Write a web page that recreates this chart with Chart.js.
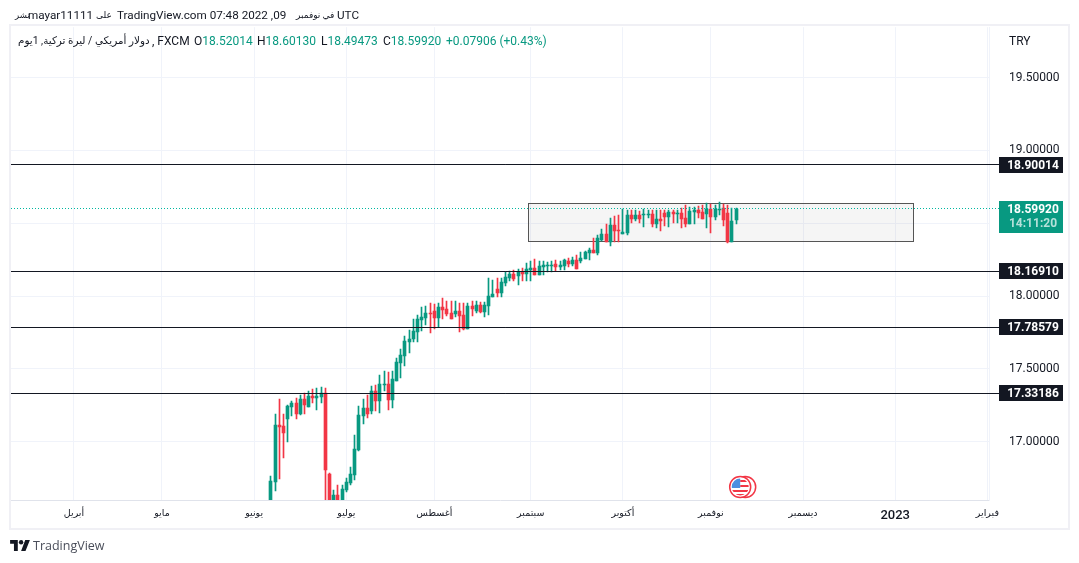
<!DOCTYPE html>
<html>
<head>
<meta charset="utf-8">
<title>USDTRY</title>
<script src="https://cdn.jsdelivr.net/npm/chart.js@4/dist/chart.umd.js"></script>
<style>
  html, body { margin: 0; padding: 0; background: #fff; width: 1079px; height: 563px; overflow: hidden; }
  body { font-family: Roboto, "DejaVu Sans", sans-serif; color: #131722; position: relative; }
  #frame { position: absolute; left: 9px; top: 24px; width: 1057px; height: 502px; border: 2px solid #f0f0f5; }
  canvas { position: absolute; left: 0; top: 0; }
  .txt { position: absolute; white-space: pre; font-size: 12px; line-height: 16px; }
  .g { color: #089981; }
  .ar { font-size: 9px; }
  #brand { position: absolute; left: 10px; top: 538px; font-family: "Open Sans", sans-serif; font-size: 12.5px; line-height: 16px; color: #4a4e5a; padding-left: 23px; }
  #brand svg { position: absolute; left: 0; top: 2px; }
</style>
</head>
<body>
<div id="frame"></div>
<canvas id="chart" width="1079" height="563"></canvas>
<div class="txt ar" style="left:15px;top:7px;font-size:8.5px">نشر</div>
<div class="txt" style="left:28px;top:7px;font-size:11.7px">mayar11111</div>
<div class="txt ar" style="left:96px;top:7px">على</div>
<div class="txt" style="left:117px;top:7px;font-size:11.7px">TradingView.com 07:48 2022 ,09</div>
<div class="txt ar" style="left:296px;top:7px">في نوفمبر</div>
<div class="txt" style="left:337px;top:7px;font-size:11.7px">UTC</div>
<div class="txt ar" style="left:18px;top:33px;direction:rtl;font-size:10.4px">دولار أمريكي / ليرة تركية, 1يوم</div>
<div class="txt" style="left:152px;top:33px">, FXCM</div>
<div class="txt" style="left:194px;top:33px">O<span class="g">18.52014</span></div>
<div class="txt" style="left:257px;top:33px">H<span class="g">18.60130</span></div>
<div class="txt" style="left:321px;top:33px">L<span class="g">18.49473</span></div>
<div class="txt" style="left:383px;top:33px">C<span class="g">18.59920</span></div>
<div class="txt g" style="left:446px;top:33px">+0.07906 (+0.43%)</div>
<div class="txt" style="left:1009px;top:33px">TRY</div>
<div id="brand"><svg width="20" height="11" viewBox="0 0 36 20"><path fill="#131722" d="M14 20H7V7H0V0h14v20zM28 20h-8l7.5-20H36l-8 20z"/><circle fill="#131722" cx="20" cy="4" r="4"/></svg>TradingView</div>

<script>
// candles, x is counted in trading days from the last bar (9 Nov 2022)
const lastBarIndex = 0;
const opens = [16.527,16.726,17.116,17.110,17.158,17.240,17.267,17.192,17.295,17.240,17.315,17.301,17.308,17.336,16.781,16.527,16.637,16.527,16.671,16.719,16.774,16.945,17.178,17.233,17.212,17.349,17.281,17.390,17.397,17.288,17.418,17.541,17.589,17.685,17.705,17.753,17.836,17.849,17.884,17.897,17.849,17.925,17.911,17.884,17.877,17.897,17.870,17.774,17.932,17.897,17.938,17.890,17.932,17.993,18.048,18.021,18.089,18.123,18.151,18.137,18.164,18.151,18.178,18.192,18.144,18.199,18.205,18.205,18.219,18.199,18.205,18.240,18.219,18.247,18.240,18.253,18.295,18.315,18.295,18.384,18.425,18.370,18.486,18.452,18.425,18.432,18.555,18.527,18.555,18.555,18.555,18.562,18.493,18.527,18.568,18.541,18.575,18.562,18.568,18.534,18.493,18.575,18.589,18.575,18.562,18.596,18.541,18.589,18.603,18.568,18.370,18.520];
const highs = [16.767,17.192,17.295,17.192,17.253,17.281,17.301,17.322,17.336,17.349,17.363,17.370,17.377,17.370,16.788,16.671,16.705,16.699,16.753,16.829,17.048,17.247,17.295,17.322,17.384,17.390,17.459,17.486,17.479,17.486,17.575,17.637,17.726,17.767,17.842,17.870,17.925,17.932,17.952,17.945,17.952,17.986,17.966,17.966,17.966,17.952,17.952,17.952,17.966,17.966,17.959,17.959,18.123,18.110,18.123,18.123,18.164,18.171,18.178,18.185,18.192,18.226,18.240,18.253,18.240,18.240,18.233,18.240,18.247,18.240,18.253,18.260,18.267,18.281,18.301,18.308,18.329,18.397,18.418,18.459,18.493,18.534,18.548,18.555,18.596,18.589,18.589,18.589,18.582,18.596,18.589,18.589,18.589,18.589,18.589,18.589,18.589,18.589,18.603,18.623,18.610,18.610,18.616,18.623,18.637,18.630,18.623,18.644,18.630,18.623,18.603,18.601];
const lows = [16.493,16.658,16.747,16.890,17.000,17.178,17.158,17.185,17.192,17.240,17.267,17.219,17.267,16.493,16.459,16.459,16.459,16.459,16.651,16.699,16.740,16.938,17.123,17.164,17.192,17.212,17.199,17.349,17.219,17.233,17.418,17.438,17.521,17.610,17.685,17.685,17.760,17.801,17.747,17.774,17.788,17.842,17.863,17.842,17.856,17.753,17.767,17.774,17.863,17.884,17.884,17.856,17.870,17.993,17.993,17.993,18.068,18.103,18.103,18.075,18.103,18.103,18.103,18.144,18.144,18.144,18.164,18.164,18.171,18.178,18.178,18.199,18.205,18.185,18.226,18.253,18.247,18.295,18.281,18.377,18.370,18.342,18.370,18.370,18.425,18.418,18.500,18.514,18.500,18.473,18.534,18.473,18.466,18.445,18.479,18.473,18.500,18.500,18.466,18.473,18.493,18.493,18.534,18.527,18.466,18.432,18.521,18.555,18.479,18.363,18.370,18.495];
const closes = [16.733,17.116,17.103,17.062,17.247,17.267,17.192,17.295,17.253,17.315,17.301,17.315,17.336,16.808,16.493,16.637,16.527,16.678,16.726,16.781,16.952,17.185,17.233,17.192,17.349,17.281,17.397,17.397,17.288,17.432,17.548,17.596,17.692,17.705,17.760,17.842,17.856,17.884,17.877,17.849,17.925,17.904,17.877,17.842,17.897,17.863,17.774,17.932,17.911,17.938,17.890,17.938,18.000,18.014,18.021,18.096,18.130,18.151,18.116,18.164,18.151,18.185,18.192,18.144,18.205,18.212,18.212,18.212,18.199,18.212,18.247,18.219,18.247,18.185,18.260,18.301,18.315,18.295,18.397,18.425,18.370,18.486,18.445,18.445,18.438,18.555,18.527,18.555,18.527,18.562,18.562,18.493,18.527,18.514,18.541,18.575,18.562,18.568,18.527,18.493,18.582,18.589,18.568,18.527,18.596,18.541,18.596,18.596,18.521,18.370,18.514,18.599];

// axes
const monthLabels = ['أبريل','مايو','يونيو','يوليو','أغسطس','سبتمبر','أكتوبر','نوفمبر','ديسمبر','2023','فبراير'];
const monthBars = [-158,-137,-115,-93,-72,-49,-27,-6,16,38,60];
const priceTicks = [17, 17.5, 18, 18.5, 19, 19.5];

// drawings on the chart
const levels = [18.90014, 18.16910, 17.78579, 17.33186];
const lastPrice = 18.59920;
const countdown = '14:11:20';
const boxBars = [-49.6, 42.2];
const boxPrices = [18.640, 18.375];
const eventBar = 1;

const UP = '#089981', DOWN = '#f23645', INK = '#131722', GRID = '#f0f3fa';
const xMin = -173.03, xMax = 60.38, lineEnd = 62.8;

const candleBar = i => i - opens.length + 1 + lastBarIndex;
const candleColors = opens.map((o, i) => closes[i] >= o ? UP : DOWN);

// everything sits on whole pixels, otherwise the 1px wicks and lines go blurry
const snapMarks = {
  id: 'snapMarks',
  afterDatasetsUpdate(chart) {
    chart.getSortedVisibleDatasetMetas().forEach(meta => {
      meta.data.forEach(el => {
        if (meta.type === 'bar') {
          el.x = Math.floor(el.x) + 0.5;
          el.y = Math.round(el.y);
          el.base = Math.round(el.base);
        } else {
          el.y = Math.floor(el.y) + 0.5;
        }
      });
    });
  }
};

const boxPlugin = {
  id: 'box',
  beforeDatasetsDraw(chart) {
    const { ctx, scales: { x, y } } = chart;
    const x0 = Math.round(x.getPixelForValue(boxBars[0])) + 0.5;
    const x1 = Math.round(x.getPixelForValue(boxBars[1])) + 0.5;
    const y0 = Math.round(y.getPixelForValue(boxPrices[0])) + 0.5;
    const y1 = Math.round(y.getPixelForValue(boxPrices[1])) + 0.5;
    ctx.save();
    ctx.fillStyle = 'rgba(110,110,115,0.07)';
    ctx.fillRect(x0, y0, x1 - x0, y1 - y0);
    ctx.strokeStyle = '#555';
    ctx.lineWidth = 1;
    ctx.strokeRect(x0, y0, x1 - x0, y1 - y0);
    ctx.restore();
  }
};

const badges = {
  id: 'badges',
  afterDraw(chart) {
    const { ctx, scales: { y } } = chart;
    ctx.save();
    ctx.textAlign = 'center';
    ctx.textBaseline = 'middle';
    ctx.font = 'bold 12px Roboto, sans-serif';
    levels.forEach(v => {
      const py = Math.round(y.getPixelForValue(v));
      ctx.fillStyle = INK;
      ctx.fillRect(999, py - 8, 64, 16);
      ctx.fillStyle = '#fff';
      ctx.fillText(v.toFixed(5), 1033, py + 1);
    });
    const py = Math.round(y.getPixelForValue(lastPrice));
    ctx.fillStyle = UP;
    ctx.fillRect(999, py - 8, 64, 32);
    ctx.fillStyle = '#fff';
    ctx.fillText(lastPrice.toFixed(5), 1033, py + 1);
    ctx.fillStyle = 'rgba(255,255,255,0.7)';
    ctx.fillText(countdown, 1033, py + 15);
    ctx.restore();
  }
};

const eventFlag = {
  id: 'eventFlag',
  afterDatasetsDraw(chart) {
    const { ctx, scales: { x }, chartArea } = chart;
    const cx = x.getPixelForValue(eventBar), cy = chartArea.bottom - 13;
    ctx.save();
    ctx.lineWidth = 1.5;
    ctx.strokeStyle = DOWN;
    ctx.fillStyle = '#fff';
    [cx + 5, cx].forEach(c => {
      ctx.beginPath();
      ctx.arc(c, cy, 10.5, 0, Math.PI * 2);
      ctx.fill();
      ctx.stroke();
    });
    ctx.beginPath();
    ctx.arc(cx, cy, 8.5, 0, Math.PI * 2);
    ctx.clip();
    ctx.fillStyle = '#fff';
    ctx.fillRect(cx - 9, cy - 9, 18, 18);
    ctx.fillStyle = DOWN;
    [-7, -2, 3].forEach(d => ctx.fillRect(cx, cy + d, 9, 2));
    ctx.fillRect(cx - 9, cy + 3, 18, 2);
    ctx.fillRect(cx - 9, cy + 7, 18, 2);
    ctx.fillStyle = '#4c8fe0';
    ctx.fillRect(cx - 9, cy - 9, 9, 10);
    ctx.restore();
  }
};

const levelData = v => [{ x: xMin, y: v }, { x: lineEnd, y: v }];

new Chart(document.getElementById('chart'), {
  type: 'bar',
  plugins: [snapMarks, boxPlugin, eventFlag, badges],
  data: {
    datasets: [
      ...levels.map(v => ({
        type: 'line', data: levelData(v), borderColor: INK, borderWidth: 1,
        pointRadius: 0, clip: false, order: 0
      })),
      {
        type: 'line', data: levelData(lastPrice), borderColor: '#00b8a0', borderWidth: 1,
        borderDash: [1, 2], pointRadius: 0, clip: false, order: 0
      },
      {
        label: 'body',
        data: opens.map((o, i) => ({ x: candleBar(i), y: [o, closes[i]] })),
        backgroundColor: candleColors, barThickness: 3, minBarLength: 1, grouped: false, order: 1
      },
      {
        label: 'wick',
        data: highs.map((h, i) => ({ x: candleBar(i), y: [lows[i], h] })),
        backgroundColor: candleColors, barThickness: 1, grouped: false, order: 2
      }
    ]
  },
  options: {
    responsive: false,
    animation: false,
    layout: { padding: { left: 11, top: 26, right: 12, bottom: 36 } },
    plugins: { legend: { display: false }, tooltip: { enabled: false } },
    scales: {
      x: {
        type: 'linear',
        offset: false,
        min: xMin,
        max: xMax,
        grid: { color: GRID, drawTicks: false, offset: false },
        border: { color: '#e0e3eb' },
        afterBuildTicks(scale) { scale.ticks = monthBars.map(value => ({ value })); },
        afterFit(scale) { scale.height = 27; },
        ticks: {
          autoSkip: false,
          maxRotation: 0,
          padding: 8,
          color: INK,
          font: ctx => ctx.tick && ctx.tick.value === 38
            ? { family: 'Roboto, sans-serif', size: 13, weight: 500 }
            : { family: '"DejaVu Sans", sans-serif', size: 9.5 },
          callback: v => monthLabels[monthBars.indexOf(v)]
        }
      },
      y: {
        position: 'right',
        min: 16.5994,
        max: 19.8459,
        grid: { color: GRID, drawTicks: false },
        border: { color: GRID },
        afterBuildTicks(scale) { scale.ticks = priceTicks.map(value => ({ value })); },
        afterFit(scale) { scale.width = 78; },
        ticks: {
          padding: 20,
          color: INK,
          font: { family: 'Roboto, sans-serif', size: 12 },
          callback: v => v.toFixed(5)
        }
      }
    }
  }
});
</script>
</body>
</html>
